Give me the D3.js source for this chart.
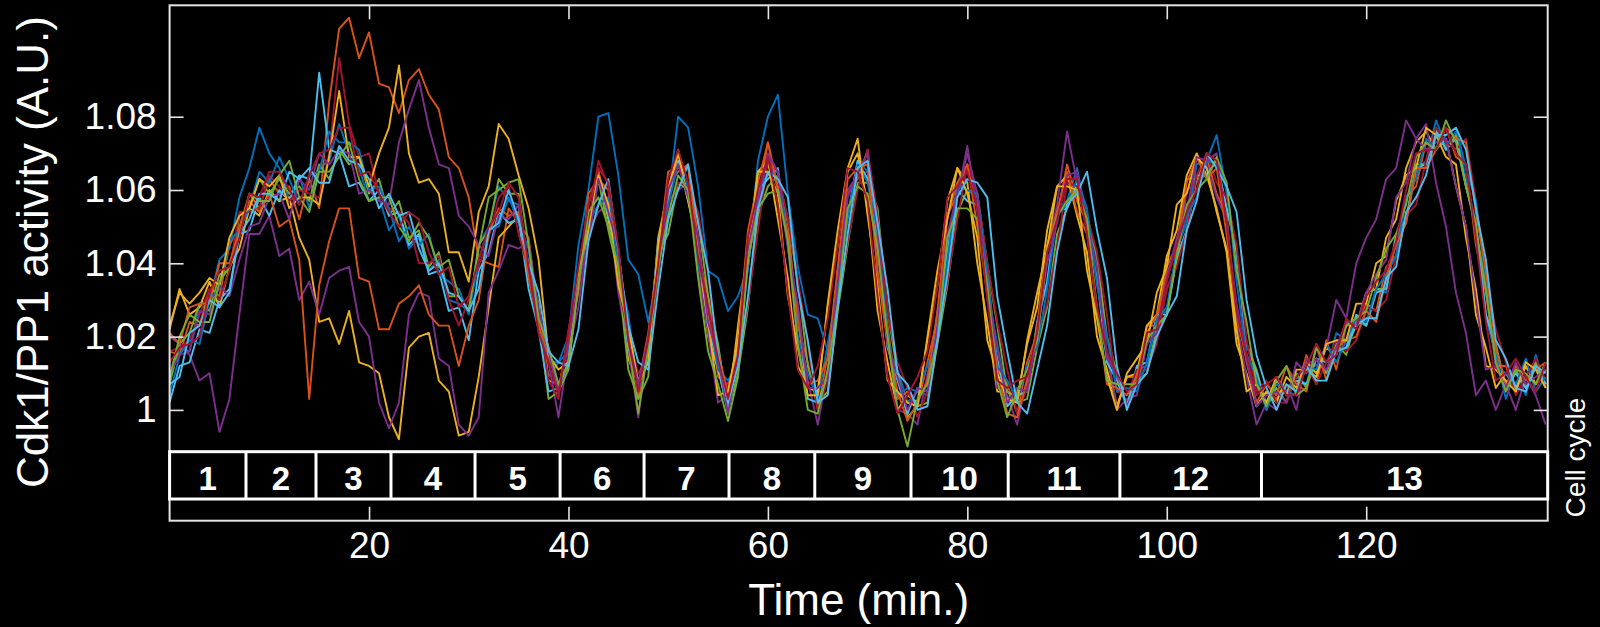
<!DOCTYPE html>
<html>
<head>
<meta charset="utf-8">
<script src="https://cdn.jsdelivr.net/npm/d3@7"></script>
<style>
  html, body { margin: 0; background: #000; }
  svg { display: block; }
  text { font-family: "Liberation Sans", Arial, Helvetica, sans-serif; fill: #fff; }
</style>
</head>
<body>
<svg id="chart" width="1600" height="627"></svg>
<script>
// Cdk1/PP1 activity traces, one sample per minute (t = 0 … 138 min).
// Values are stored in milli-units above 1 A.U.: activity = 1 + v / 1000.
const trace01 = [8,17,16,29,30,41,44,58,66,77, 70,66,57,64,55,66,68,78,70,66, 57,58,49,53,44,47,38,41,30,29, 27,45,50,61,57,56,37,27,9,13, 20,45,60,80,81,64,41,37,24,38, 57,80,77,61,38,36,27,31,39,68, 80,86,59,39,26,25,16,33,52,68, 65,50,17,11,2,5,4,27,43,62, 60,58,33,18,3,6,5,23,35,55, 57,66,52,41,15,9,1,11,12,25, 27,44,51,67,68,75,59,43,15,9, 0,7,5,9,7,17,10,21,19,24, 23,33,32,47,51,65,68,79,72,76, 63,51,25,15,3,11,4,15,6];
const trace02 = [16,15,24,23,33,31,45,50,59,55, 63,59,61,52,63,55,84,104,107,96, 103,89,88,81,90,93,86,82,69,66, 58,41,40,39,55,51,47,25,17,5, 21,33,59,63,60,35,23,3,17,37, 61,65,67,43,31,9,7,13,45,57, 73,61,51,23,13,0,15,33,59,63, 71,43,23,3,5,1,13,25,53,59, 67,55,39,11,7,-1,13,21,45,53, 67,57,51,27,15,1,9,9,23,23, 39,45,63,63,69,59,53,25,15,1, 5,3,7,5,15,7,19,11,23,23, 29,27,39,42,58,61,73,71,77,69, 67,45,32,12,12,5,12,7,13];
const trace03 = [22,33,26,28,35,28,39,44,55,53, 60,57,58,47,41,24,25,18,27,13, 12,10,-2,-8,17,20,21,8,5,-7, -6,9,28,47,50,53,38,29,8,7, 12,35,48,65,52,37,14,7,14,47, 60,71,58,43,20,11,0,23,44,65, 68,52,36,12,6,5,28,45,65,70, 56,27,13,0,4,2,19,34,57,66, 62,40,24,5,5,3,18,28,49,61, 64,53,43,20,11,1,9,10,23,26, 42,49,64,70,64,55,43,18,10,1, 5,2,9,6,13,10,17,15,24,23, 32,33,47,52,66,73,76,71,74,61, 50,26,17,6,10,6,12,7,11];
const trace04 = [20,18,15,8,10,-6,3,26,48,48, 53,42,44,30,35,26,36,38,39,24, 20,2,-5,2,26,32,31,14,12,-4, -7,-2,32,38,45,44,46,28,13,-2, 16,28,49,54,56,32,17,-2,18,38, 57,60,62,38,21,2,4,12,41,54, 70,60,45,18,8,-4,11,32,60,64, 65,38,20,0,-1,-4,10,20,47,58, 72,54,31,6,4,-4,9,18,44,56, 76,62,51,26,16,0,3,4,18,22, 33,40,60,62,67,58,52,24,9,-4, 2,0,7,0,14,12,17,30,25,40, 47,52,63,66,79,74,78,62,50,32, 21,4,8,0,7,0,9,4,-4];
const trace05 = [7,18,21,29,27,37,38,53,55,63, 59,63,59,61,57,67,63,71,67,69, 59,63,53,57,47,49,39,43,31,31, 27,45,49,63,59,59,37,25,3,5, 11,35,47,63,49,37,11,3,9,43, 48,62,60,52,31,18,0,10,28,53, 61,64,52,35,12,2,5,27,45,62, 62,55,27,10,-2,1,2,18,34,54, 60,59,40,23,5,2,3,17,28,48, 55,61,53,42,20,10,1,8,10,22, 26,41,49,63,64,68,55,44,18,11, 1,6,2,10,6,14,10,18,15,25, 23,33,33,48,52,67,67,77,71,75, 61,51,26,18,6,11,6,13,7];
const trace06 = [2,12,13,22,21,30,33,48,49,58, 53,60,57,64,63,92,71,70,61,62, 57,60,53,54,45,48,37,38,27,28, 19,38,43,54,51,52,33,22,5,6, 13,36,49,64,53,40,17,8,15,46, 57,68,57,46,23,12,-1,18,39,60, 63,66,45,26,3,2,9,38,53,68, 63,48,17,8,-1,6,5,26,43,60, 57,56,31,14,1,4,5,24,35,54, 55,62,49,36,13,8,1,12,13,26, 26,42,49,64,64,68,55,43,18,10, 1,8,5,8,7,14,13,16,17,26, 23,32,33,47,52,66,67,76,71,74, 61,50,26,17,6,10,6,12,7];
const trace07 = [16,17,19,26,33,30,38,54,54,55, 64,61,57,60,59,58,70,96,78,69, 70,59,55,54,51,40,40,42,30,23, 30,39,47,58,61,48,38,26,8,3, 22,35,51,68,61,34,20,10,14,39, 55,62,61,54,37,13,6,14,29,49, 68,65,52,36,18,0,8,30,46,60, 71,53,27,13,6,-2,5,21,35,52, 67,59,40,24,11,-1,6,20,29,44, 62,61,53,43,26,5,4,11,11,18, 33,39,49,64,70,62,58,45,19,5, 8,2,2,9,12,7,13,19,16,19, 28,27,30,42,53,56,68,77,73,71, 74,57,35,22,13,4,9,14,8];
const trace08 = [4,15,19,18,30,33,46,49,55,65, 62,69,63,56,64,65,76,73,73,71, 60,61,55,46,50,45,48,37,35,33, 26,41,49,50,58,51,44,23,13,13, 16,37,51,56,58,39,26,5,17,45, 56,67,61,40,28,11,8,13,39,61, 64,65,47,20,10,3,18,33,53,67, 62,49,21,4,6,5,12,19,41,61, 60,59,37,12,8,3,12,17,33,53, 56,63,55,34,20,5,6,5,13,25, 28,43,53,58,68,67,62,35,15,9, 0,9,5,4,12,11,18,13,19,25, 24,33,37,42,58,63,74,71,75,77, 66,57,35,12,10,7,14,5,9];
const trace09 = [21,18,28,29,29,40,40,49,57,54, 59,50,52,41,3,34,46,55,55,36, 35,22,22,29,31,34,26,23,23,12, 23,30,48,55,53,54,36,23,15,6, 19,32,56,65,55,44,20,7,21,42, 65,66,66,47,25,16,4,19,49,62, 73,60,48,25,7,8,14,39,63,66, 67,38,18,5,-3,2,8,27,53,62, 67,50,32,11,-1,-2,8,23,45,54, 65,54,48,27,7,6,4,9,21,26, 37,44,62,69,63,66,48,27,13,2, 7,4,12,7,5,18,8,17,19,20, 27,24,36,45,51,66,66,71,77,74, 73,54,38,17,7,12,8,11,13];
const trace10 = [23,32,29,32,36,34,47,53,55,63, 61,64,55,58,58,56,69,87,69,69, 61,70,77,94,70,62,63,59,43,43, 35,54,61,78,74,64,55,41,15,11, 13,38,49,64,56,34,23,7,13,45, 59,70,57,44,24,4,5,19,41,65, 65,59,31,17,4,4,29,49,66,74, 53,34,8,5,2,1,20,38,52,66, 59,47,19,10,3,2,19,32,44,61, 61,60,38,25,9,0,10,14,18,32, 39,56,59,69,66,54,44,22,5,7, 2,9,4,11,11,9,18,19,19,29, 29,40,42,57,64,66,77,75,69,67, 47,33,12,11,8,5,13,11,6];
const trace11 = [10,15,16,27,26,34,31,41,50,51, 58,59,52,63,60,70,67,71,70,59, 60,57,56,73,82,90,77,67,66,53, 50,45,42,53,52,56,39,27,16,5, 18,35,46,63,54,44,19,7,20,39, 60,67,58,47,24,14,-1,15,44,57, 70,65,44,29,6,6,9,35,58,65, 70,49,18,9,0,6,5,23,48,59, 70,59,32,17,2,6,5,21,40,51, 64,65,50,39,14,10,1,7,18,21, 36,47,54,69,68,70,51,29,14,1, 4,5,2,13,10,14,11,17,24,23, 32,37,41,58,62,74,71,73,74,61, 50,30,11,12,6,13,7,9,11];
const trace12 = [9,20,26,24,24,35,39,47,59,57, 57,64,68,58,54,65,65,69,73,63, 57,58,58,50,46,51,47,39,41,31, 27,44,58,60,62,63,45,25,17,7, 13,34,54,58,50,39,19,-1,17,39, 53,64,60,36,16,7,-3,9,41,55, 59,60,46,18,0,-1,11,29,55,61, 59,44,20,0,-10,3,7,19,47,55, 55,52,34,8,-2,5,11,19,43,53, 57,60,52,28,8,7,7,7,19,23, 26,42,56,60,63,69,62,38,24,7, 1,8,12,4,6,17,13,15,23,25, 27,36,44,48,56,69,73,71,79,73, 61,50,33,13,5,11,10,7,13];
const trace13 = [7,9,21,23,30,28,32,48,52,59, 59,57,65,63,66,62,62,72,68,67, 63,55,59,53,54,44,38,40,32,31, 27,33,49,51,60,52,40,32,16,13, 12,22,46,56,63,43,23,13,11,33, 52,60,67,51,38,15,2,12,31,55, 65,63,58,33,19,2,4,28,48,66, 68,51,33,10,7,0,1,19,37,58, 63,62,58,31,16,2,-1,11,23,43, 56,59,65,49,36,12,0,7,10,20, 26,31,49,57,70,66,61,54,30,15, 6,0,7,5,12,8,8,16,17,23, 25,25,36,39,54,58,64,75,75,77, 71,55,41,19,14,6,5,12,10];
const trace14 = [13,17,18,20,32,38,39,47,59,58, 65,65,60,56,64,70,71,77,77,64, 65,59,54,50,54,52,43,37,39,28, 31,41,50,54,62,58,39,21,13,4, 21,39,56,66,62,44,19,5,19,40, 63,71,62,42,28,14,3,15,47,60, 69,56,32,11,6,12,25,45,66,65, 57,31,9,-1,4,9,16,34,58,61, 65,55,30,8,6,8,9,21,43,52, 63,63,48,28,16,10,5,7,21,22, 35,45,54,60,70,68,51,27,15,4, 7,9,4,4,12,18,13,15,25,22, 31,35,38,46,60,70,71,71,77,70, 67,47,24,8,10,14,9,5,13];

const traces = [trace01, trace02, trace03, trace04, trace05, trace06, trace07,
                trace08, trace09, trace10, trace11, trace12, trace13, trace14];
const traceColors = ["#0072BD", "#D95319", "#EDB120", "#7E2F8E", "#77AC30", "#4DBEEE", "#A2142F"];

// Cell-cycle boundaries (min) and their labels
const cycleEdges = [0, 7.66, 14.68, 22.2, 30.63, 39.16, 47.58, 56.1, 64.7, 74.35, 84.1, 95.3, 109.5, 138.2];
const cycleLabels = ["1","2","3","4","5","6","7","8","9","10","11","12","13"];

const yTicks = [1, 1.02, 1.04, 1.06, 1.08];
const xTicks = [20, 40, 60, 80, 100, 120];
const sampleStep = 1; // minutes between samples

// ---- layout ----
const svg = d3.select("#chart");
svg.append("rect").attr("width", 1600).attr("height", 627).attr("fill", "#000");

const plotLeft = 169.6, plotRight = 1547.7, plotTop = 5.3, plotBottom = 520.7;
const traceBottom = 451.7;          // upper edge of the cell-cycle strip
const stripBottom = 499;

const x = d3.scaleLinear().domain([0, 138.2]).range([plotLeft, plotRight]);
const y = d3.scaleLinear().domain([0.9886, 1.1104]).range([traceBottom, plotTop]);
const toAU = v => 1 + v / 1000;

// clip traces to the upper panel
svg.append("defs").append("clipPath").attr("id", "panel")
  .append("rect").attr("x", plotLeft).attr("y", plotTop)
  .attr("width", plotRight - plotLeft).attr("height", traceBottom - plotTop);

const line = d3.line()
  .x((v, i) => x(i * sampleStep))
  .y(v => y(toAU(v)));

const gTraces = svg.append("g").attr("clip-path", "url(#panel)");
traces.forEach((tr, k) => {
  gTraces.append("path")
    .datum(tr)
    .attr("d", line)
    .attr("fill", "none")
    .attr("stroke", traceColors[k % traceColors.length])
    .attr("stroke-width", 1.9)
    .attr("stroke-linejoin", "round");
});

// ---- axes (ticks pointing inward) ----
const tickColor = "#e4e4e4";
const styleAxis = g => {
  g.select(".domain").remove();
  g.selectAll(".tick line").attr("stroke", tickColor).attr("stroke-width", 1.6);
  g.selectAll(".tick text").attr("fill", "#fff").attr("font-size", 37)
    .attr("font-family", "'Liberation Sans', Arial, Helvetica, sans-serif");
};

svg.append("g").attr("transform", `translate(${plotLeft},0)`)
  .call(d3.axisLeft(y).tickValues(yTicks).tickSize(-14).tickPadding(13)
        .tickFormat(d => d === 1 ? "1" : d3.format(".2f")(d)))
  .call(styleAxis);

svg.append("g").attr("transform", `translate(${plotRight},0)`)
  .call(d3.axisRight(y).tickValues(yTicks).tickSize(-14).tickFormat(""))
  .call(styleAxis);

svg.append("g").attr("transform", `translate(0,${plotBottom})`)
  .call(d3.axisBottom(x).tickValues(xTicks).tickSize(-14).tickPadding(11).tickFormat(d3.format("d")))
  .call(styleAxis);

svg.append("g").attr("transform", `translate(0,${plotTop})`)
  .call(d3.axisTop(x).tickValues(xTicks).tickSize(-14).tickFormat(""))
  .call(styleAxis);

// frame
svg.append("rect")
  .attr("x", plotLeft).attr("y", plotTop)
  .attr("width", plotRight - plotLeft).attr("height", plotBottom - plotTop)
  .attr("fill", "none").attr("stroke", tickColor).attr("stroke-width", 2);

// ---- cell-cycle strip ----
const gStrip = svg.append("g");
gStrip.append("rect")
  .attr("x", x(cycleEdges[0])).attr("y", traceBottom)
  .attr("width", x(cycleEdges[cycleEdges.length - 1]) - x(cycleEdges[0]))
  .attr("height", stripBottom - traceBottom)
  .attr("fill", "none").attr("stroke", "#fff").attr("stroke-width", 3);

gStrip.selectAll("line.div")
  .data(cycleEdges.slice(1, -1))
  .join("line")
  .attr("class", "div")
  .attr("x1", d => x(d)).attr("x2", d => x(d))
  .attr("y1", traceBottom).attr("y2", stripBottom)
  .attr("stroke", "#fff").attr("stroke-width", 3);

gStrip.selectAll("text.cyc")
  .data(cycleLabels)
  .join("text")
  .attr("class", "cyc")
  .attr("x", (d, i) => x((cycleEdges[i] + cycleEdges[i + 1]) / 2))
  .attr("y", 490)
  .attr("text-anchor", "middle")
  .attr("font-size", 33)
  .attr("font-weight", "bold")
  .text(d => d);

// ---- axis titles ----
svg.append("text")
  .attr("transform", `translate(48,252) rotate(-90)`)
  .attr("text-anchor", "middle")
  .attr("font-size", 44)
  .text("Cdk1/PP1 activity (A.U.)");

svg.append("text")
  .attr("x", (plotLeft + plotRight) / 2).attr("y", 615)
  .attr("text-anchor", "middle")
  .attr("font-size", 44)
  .text("Time (min.)");

svg.append("text")
  .attr("transform", `translate(1585,457.5) rotate(-90)`)
  .attr("text-anchor", "middle")
  .attr("font-size", 28)
  .text("Cell cycle");
</script>
</body>
</html>
